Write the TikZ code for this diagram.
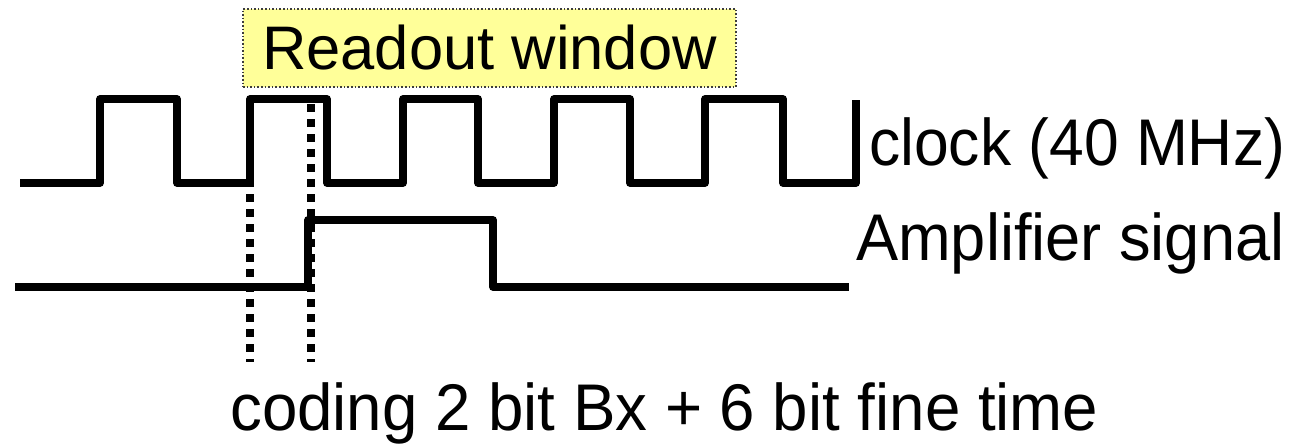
\documentclass[tikz,border=0pt]{standalone}
\usepackage{fontspec}
\setmainfont{Liberation Sans}
\usepackage{graphicx}
\definecolor{paleyellow}{RGB}{255,255,153}
\definecolor{boxedge}{RGB}{60,60,60}
\begin{document}
\begin{tikzpicture}[x=1pt,y=-1pt,
  wave/.style={line width=7.5pt,line join=round,line cap=butt},
  marker/.style={line width=8pt,dash pattern=on 8pt off 7pt},
  lbl/.style={inner sep=0pt,anchor=base west,font=\fontsize{66}{70}\selectfont},
  winbox/.style={draw=boxedge,line width=1.6pt,dotted,fill=paleyellow,
    minimum width=493pt,minimum height=78pt,inner sep=0pt,
    text height=44pt,text depth=0pt,font=\fontsize{61.5}{66}\selectfont}]
\useasboundingbox (0,0) rectangle (1310,444);
% readout window
\node[winbox] (win) at (489.5,48) {Readout window};
% clock waveform
\coordinate (c0) at (20,183);
\coordinate (cend) at (856,100);
\draw[wave] (c0) -- (100,183) -- (100,99) -- (177,99) -- (177,183)
  -- (250,183) -- (250,99) -- (327,99) -- (327,183)
  -- (403,183) -- (403,99) -- (478,99) -- (478,183)
  -- (554,183) -- (554,99) -- (630,99) -- (630,183)
  -- (705,183) -- (705,99) -- (783,99) -- (783,183)
  -- (856,183) -- (cend);
% amplifier signal
\coordinate (a0) at (15,287);
\coordinate (aend) at (849,287);
\draw[wave] (a0) -- (308,287) -- (308,220) -- (493,220) -- (493,287) -- (aend);
% dotted markers
\coordinate (m1t) at (250,104);
\coordinate (m1b) at (250,362);
\coordinate (m2t) at (311,104);
\coordinate (m2b) at (311,362);
\draw[marker] (m1t) -- (m1b);
\draw[marker] (m2t) -- (m2b);
% labels
\node[lbl] (clk) at (869,165) {\scalebox{0.945}[1]{clock (40 MHz)}};
\node[lbl] (amp) at (856,260) {\scalebox{0.957}[1]{Amplifier signal}};
\node[lbl] (cod) at (230,430) {\scalebox{0.964}[1]{coding 2 bit Bx + 6 bit fine time}};
\end{tikzpicture}
\end{document}
